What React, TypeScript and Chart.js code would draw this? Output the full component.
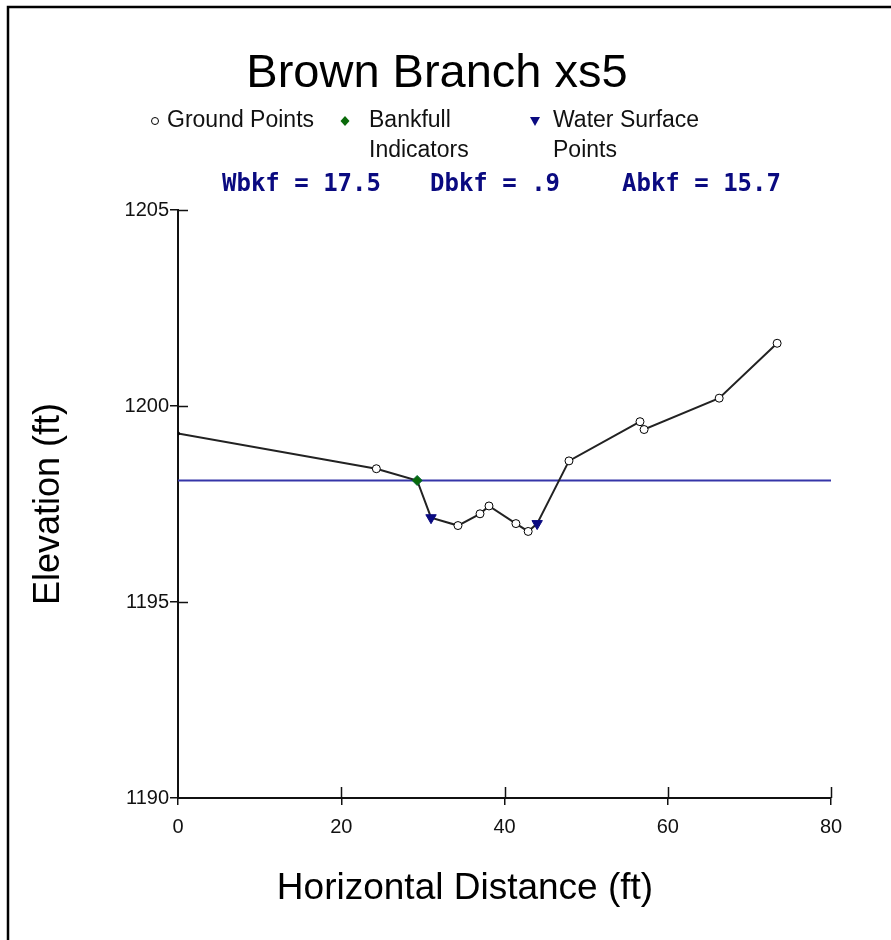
import React, { useEffect, useRef } from "react";
import { Chart, registerables } from "chart.js";

Chart.register(...registerables);

// ---- data ----
const profileX = [0, 24.3, 29.3, 31.0, 34.3, 37.0, 38.1, 41.4, 42.9, 44.0, 47.9, 56.6, 57.1, 66.3, 73.4];
const profileY = [1199.3, 1198.4, 1198.1, 1197.15, 1196.95, 1197.25, 1197.45, 1197.0, 1196.8, 1197.0, 1198.6, 1199.6, 1199.4, 1200.2, 1201.6];
const groundX = [24.3, 34.3, 37.0, 38.1, 41.4, 42.9, 47.9, 56.6, 57.1, 66.3, 73.4];
const groundY = [1198.4, 1196.95, 1197.25, 1197.45, 1197.0, 1196.8, 1198.6, 1199.6, 1199.4, 1200.2, 1201.6];
const bankfullX = [29.3];
const bankfullY = [1198.1];
const waterX = [31.0, 44.0];
const waterY = [1197.15, 1197.0];
const stageX = [0, 80];
const stageY = [1198.1, 1198.1];
const xTicks = [0, 20, 40, 60, 80];
const yTicks = [1190, 1195, 1200, 1205];
const titleText = "Brown Branch xs5";
const xTitle = "Horizontal Distance (ft)";
const yTitle = "Elevation (ft)";
const legendLabels = [["Ground Points"], ["Bankfull", "Indicators"], ["Water Surface", "Points"]];
const statLabels = ["Wbkf = 17.5", "Dbkf = .9", "Abkf = 15.7"];

const pts = (xs: number[], ys: number[]) => xs.map((x, i) => ({ x, y: ys[i] }));

const FONT = "'Liberation Sans', Arial, sans-serif";
const NAVY = "#0a0a80";
const GREEN = "#0a6a0a";

function drawMarker(ctx: CanvasRenderingContext2D, kind: string, x: number, y: number) {
  ctx.save();
  ctx.lineWidth = 1;
  ctx.strokeStyle = "#000";
  ctx.beginPath();
  if (kind === "circle") {
    ctx.arc(x, y, 3.5, 0, Math.PI * 2);
    ctx.fillStyle = "#fff";
    ctx.fill();
    ctx.stroke();
  } else if (kind === "diamond") {
    ctx.moveTo(x, y - 5);
    ctx.lineTo(x + 4.5, y);
    ctx.lineTo(x, y + 5);
    ctx.lineTo(x - 4.5, y);
    ctx.closePath();
    ctx.fillStyle = GREEN;
    ctx.fill();
  } else {
    ctx.moveTo(x - 5, y - 4);
    ctx.lineTo(x + 5, y - 4);
    ctx.lineTo(x, y + 5);
    ctx.closePath();
    ctx.fillStyle = NAVY;
    ctx.fill();
  }
  ctx.restore();
}

const decorPlugin = {
  id: "decor",
  afterDraw(chart: any) {
    const ctx: CanvasRenderingContext2D = chart.ctx;
    const xs = chart.scales.x;
    const ys = chart.scales.y;
    const area = chart.chartArea;
    ctx.save();
    // frame (top + left)
    ctx.strokeStyle = "#000";
    ctx.lineWidth = 2.5;
    ctx.beginPath();
    ctx.moveTo(8, 940);
    ctx.lineTo(8, 7);
    ctx.lineTo(891, 7);
    ctx.stroke();

    // inner halves of tick marks
    ctx.lineWidth = 1.5;
    ctx.strokeStyle = "#111";
    ctx.beginPath();
    xTicks.forEach((v) => {
      if (v === xs.min) return;
      const px = Math.round(xs.getPixelForValue(v)) + 0.5;
      ctx.moveTo(px, area.bottom);
      ctx.lineTo(px, area.bottom - 11);
    });
    yTicks.forEach((v) => {
      if (v === ys.min) return;
      const py = Math.round(ys.getPixelForValue(v)) + 0.5;
      ctx.moveTo(area.left, py);
      ctx.lineTo(area.left + 10, py);
    });
    ctx.stroke();

    // title
    ctx.fillStyle = "#000";
    ctx.font = `47px ${FONT}`;
    ctx.textAlign = "center";
    ctx.textBaseline = "alphabetic";
    ctx.fillText(titleText, 437, 87);

    // x axis title
    ctx.font = `37px ${FONT}`;
    ctx.textBaseline = "middle";
    ctx.fillText(xTitle, 465, 889);

    // legend
    ctx.font = `23px ${FONT}`;
    ctx.textAlign = "left";
    ctx.textBaseline = "middle";
    ctx.fillStyle = "#111";
    const legendPos = [
      { mx: 155, tx: 167, kind: "circle" },
      { mx: 345, tx: 369, kind: "diamond" },
      { mx: 535, tx: 553, kind: "triangle" },
    ];
    legendPos.forEach((p, i) => {
      drawMarker(ctx, p.kind, p.mx, 121);
      legendLabels[i].forEach((line, j) => {
        ctx.fillText(line, p.tx, 121 + j * 30);
      });
    });

    // bankfull statistics
    ctx.font = `bold 24px 'DejaVu Sans Mono', monospace`;
    ctx.fillStyle = NAVY;
    const statPos = [222, 430, 622];
    statLabels.forEach((s, i) => ctx.fillText(s, statPos[i], 185));
    ctx.restore();
  },
};

export default function App() {
  const ref = useRef<HTMLCanvasElement>(null);
  useEffect(() => {
    if (!ref.current) return;
    const chart = new Chart(ref.current, {
      type: "scatter",
      data: {
        datasets: [
          {
            label: "Water Surface Points",
            data: pts(waterX, waterY),
            pointStyle: "triangle",
            rotation: 180,
            pointRadius: 6,
            backgroundColor: NAVY,
            borderColor: NAVY,
            borderWidth: 1,
            showLine: false,
          },
          {
            label: "Bankfull Indicators",
            data: pts(bankfullX, bankfullY),
            pointStyle: "rectRot",
            pointRadius: 5,
            backgroundColor: GREEN,
            borderColor: "#063",
            borderWidth: 1,
            showLine: false,
          },
          {
            label: "Ground Points",
            data: pts(groundX, groundY),
            pointStyle: "circle",
            pointRadius: 4,
            backgroundColor: "#fff",
            borderColor: "#000",
            borderWidth: 1,
            showLine: false,
          },
          {
            label: "Profile",
            data: pts(profileX, profileY),
            showLine: true,
            borderColor: "#222",
            borderWidth: 2,
            pointRadius: profileX.map((_, i) => (i === 0 ? 2 : 0)),
            pointBackgroundColor: "#000",
            pointBorderWidth: 0,
          },
          {
            label: "Bankfull Stage",
            data: pts(stageX, stageY),
            showLine: true,
            borderColor: "#3535a8",
            borderWidth: 2,
            pointRadius: 0,
          },
        ],
      },
      options: {
        animation: false,
        responsive: false,
        events: [],
        layout: { padding: { left: 0, right: 60, top: 210, bottom: 0 } },
        plugins: {
          legend: { display: false },
          title: { display: false },
          tooltip: { enabled: false },
        },
        scales: {
          x: {
            type: "linear",
            min: 0,
            max: 80,
            afterFit: (s: any) => {
              s.height = 142;
            },
            afterBuildTicks: (s: any) => {
              s.ticks = xTicks.map((v) => ({ value: v }));
            },
            ticks: {
              color: "#111",
              font: { size: 20, family: FONT },
              padding: 10,
              maxRotation: 0,
              callback: (v: any) => String(v),
            },
            grid: {
              display: true,
              drawOnChartArea: false,
              drawTicks: true,
              tickLength: 7,
              color: "#111",
              lineWidth: 1.5,
            },
            border: { display: true, color: "#111", width: 2 },
            title: { display: false },
          },
          y: {
            type: "linear",
            min: 1190,
            max: 1205,
            afterFit: (s: any) => {
              s.width = 178;
            },
            afterBuildTicks: (s: any) => {
              s.ticks = yTicks.map((v) => ({ value: v }));
            },
            ticks: {
              color: "#111",
              font: { size: 20, family: FONT },
              padding: 1,
              callback: (v: any) => String(v),
            },
            grid: {
              display: true,
              drawOnChartArea: false,
              drawTicks: true,
              tickLength: 8,
              color: "#111",
              lineWidth: 1.5,
            },
            border: { display: true, color: "#111", width: 2 },
            title: {
              display: true,
              text: yTitle,
              color: "#000",
              font: { size: 36, family: FONT },
              padding: { top: 27, bottom: 0 },
            },
          },
        },
      },
      plugins: [decorPlugin],
    } as any);
    return () => chart.destroy();
  }, []);
  return (
    <div style={{ position: "absolute", left: 0, top: 0, width: 891, height: 940, background: "#fff" }}>
      <canvas ref={ref} width={891} height={940} style={{ display: "block", width: 891, height: 940 }} />
    </div>
  );
}
